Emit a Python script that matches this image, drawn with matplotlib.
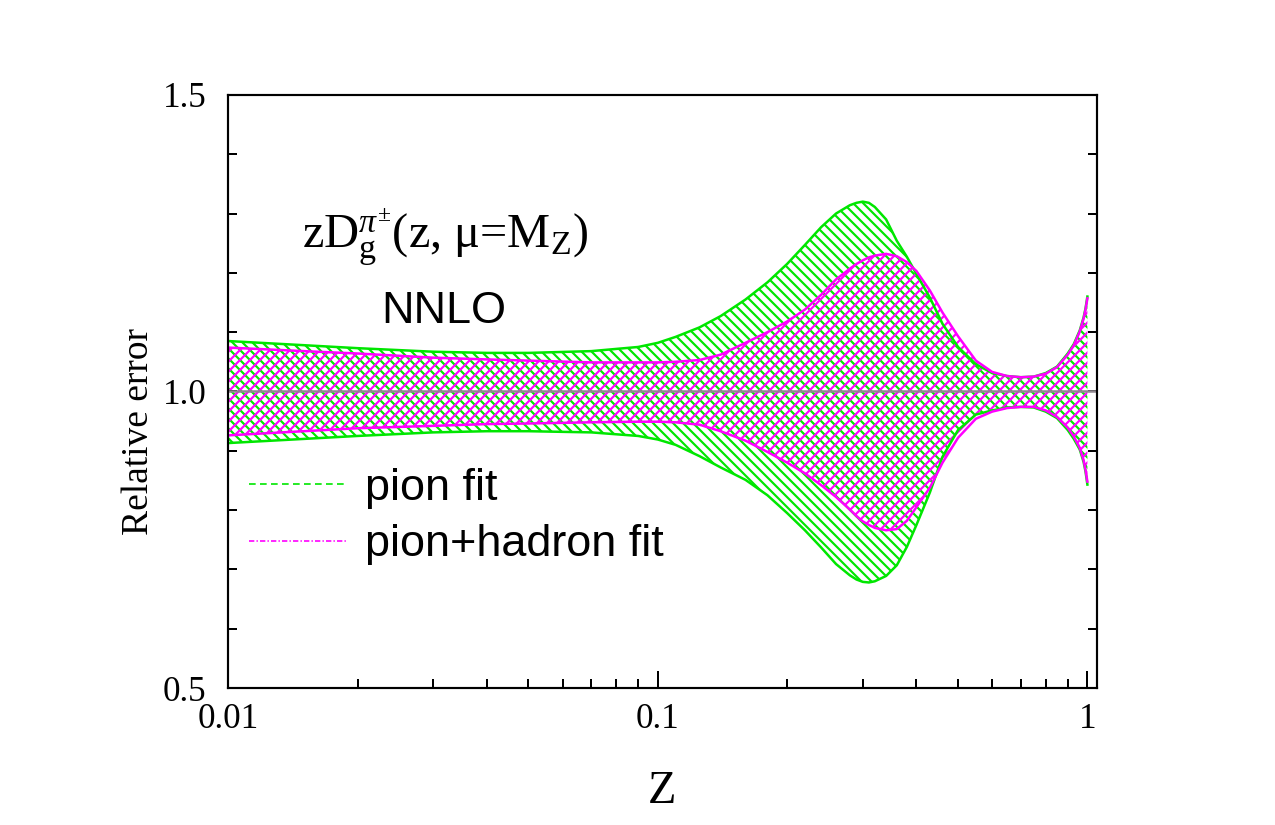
import numpy as np
import matplotlib
matplotlib.use('Agg')
import matplotlib.pyplot as plt
from matplotlib.ticker import MultipleLocator, NullFormatter, FixedLocator

# values
z = [0.01, 0.015, 0.02, 0.03, 0.04, 0.05, 0.07, 0.09, 0.1, 0.11, 0.125, 0.14,
     0.16, 0.18, 0.2, 0.22, 0.24, 0.26, 0.28, 0.29, 0.3, 0.31, 0.32, 0.34,
     0.36, 0.38, 0.4, 0.43, 0.46, 0.5, 0.55, 0.6, 0.65, 0.7, 0.75, 0.8, 0.85,
     0.9, 0.93, 0.96, 0.98, 0.99, 1.0]

pion_hi = [1.085, 1.078, 1.073, 1.067, 1.065, 1.065, 1.068, 1.075, 1.082, 1.092,
           1.108, 1.127, 1.155, 1.184, 1.215, 1.247, 1.277, 1.300, 1.314, 1.318,
           1.320, 1.318, 1.311, 1.290, 1.254, 1.227, 1.198, 1.158, 1.114, 1.075,
           1.046, 1.031, 1.026, 1.024, 1.025, 1.031, 1.042, 1.064, 1.080, 1.103,
           1.125, 1.140, 1.160]
pion_lo = [0.913, 0.920, 0.925, 0.931, 0.933, 0.933, 0.931, 0.925, 0.919, 0.910,
           0.891, 0.872, 0.851, 0.825, 0.795, 0.766, 0.737, 0.709, 0.690, 0.683,
           0.679, 0.678, 0.680, 0.689, 0.707, 0.738, 0.775, 0.830, 0.890, 0.935,
           0.961, 0.968, 0.973, 0.974, 0.973, 0.966, 0.955, 0.935, 0.920, 0.902,
           0.881, 0.865, 0.843]
had_hi = [1.074, 1.068, 1.064, 1.057, 1.054, 1.052, 1.049, 1.049, 1.049, 1.050,
          1.053, 1.062, 1.082, 1.100, 1.118, 1.138, 1.163, 1.189, 1.207, 1.215,
          1.221, 1.226, 1.229, 1.232, 1.228, 1.218, 1.203, 1.170, 1.133, 1.093,
          1.052, 1.033, 1.026, 1.024, 1.025, 1.030, 1.041, 1.062, 1.078, 1.101,
          1.123, 1.138, 1.157]
had_lo = [0.926, 0.933, 0.938, 0.942, 0.945, 0.946, 0.948, 0.949, 0.949, 0.948,
          0.944, 0.933, 0.917, 0.898, 0.880, 0.862, 0.842, 0.822, 0.801, 0.790,
          0.781, 0.775, 0.770, 0.766, 0.768, 0.782, 0.805, 0.838, 0.880, 0.922,
          0.954, 0.966, 0.972, 0.974, 0.974, 0.968, 0.957, 0.939, 0.924, 0.905,
          0.884, 0.868, 0.848]

labels = ['pion fit', 'pion+hadron fit']
green = '#00e600'
magenta = '#ff00ff'

plt.rcParams['font.family'] = 'Liberation Serif'
plt.rcParams['mathtext.fontset'] = 'custom'
plt.rcParams['mathtext.rm'] = 'Liberation Serif'
plt.rcParams['mathtext.it'] = 'Liberation Serif:italic'
plt.rcParams['mathtext.bf'] = 'Liberation Serif:bold'
plt.rcParams['hatch.linewidth'] = 1.3

fig = plt.figure(figsize=(10.625, 6.875), dpi=120)
ax = fig.add_axes([0.179, 0.166, 0.681, 0.719])

ax.fill_between(z, pion_lo, pion_hi, facecolor='none', edgecolor=green,
                hatch='\\\\\\\\', linewidth=0)
ax.fill_between(z, had_lo, had_hi, facecolor='none', edgecolor=magenta,
                hatch='////', linewidth=0)
ax.axhline(1.0, color='#8f878f', lw=1.5)
ax.plot(z, pion_hi, color=green, lw=1.5)
ax.plot(z, pion_lo, color=green, lw=1.5)
ax.plot(z, had_hi, color=magenta, lw=1.5)
ax.plot(z, had_lo, color=magenta, lw=1.5)

ax.set_xscale('log')
ax.set_xlim(0.01, 1.05)
ax.set_ylim(0.5, 1.5)
ax.xaxis.set_major_locator(FixedLocator([0.01, 0.1, 1]))
ax.set_xticklabels(['0.01', '0.1', '1'])
ax.xaxis.set_minor_formatter(NullFormatter())
ax.set_yticks([0.5, 1.0, 1.5])
ax.set_yticklabels(['0.5', '1.0', '1.5'])
ax.yaxis.set_minor_locator(MultipleLocator(0.1))

ax.tick_params(axis='x', which='major', direction='in', length=10, width=1.2,
               labelsize=21, pad=9, top=False)
ax.tick_params(axis='x', which='minor', direction='in', length=5.4, width=1.2,
               top=False)
ax.tick_params(axis='y', which='both', direction='in', length=5.4, width=1.2,
               left=True, right=True, labelsize=21, pad=13)
for s in ax.spines.values():
    s.set_linewidth(1.3)

ax.set_xlabel('Z', fontsize=28)
ax.xaxis.set_label_coords(0.5, -0.139)
ax.set_ylabel('Relative error', fontsize=22.5)
ax.yaxis.set_label_coords(-0.083, 0.432)

ax.text(0.085, 0.742, r'zD$_{\mathrm{g}}^{\pi^{\pm}}$(z, μ=M$_{\mathrm{Z}}$)',
        transform=ax.transAxes, fontsize=29, va='baseline', ha='left')
ax.text(0.176, 0.6155, 'NNLO', family='Liberation Sans', transform=ax.transAxes,
        fontsize=27, va='baseline', ha='left')

# legend drawn by hand
ax.plot([0.0235, 0.1378], [0.3435, 0.3435], transform=ax.transAxes,
        color=green, lw=1.0, dashes=(4, 2.6))
ax.plot([0.0235, 0.1378], [0.2484, 0.2484], transform=ax.transAxes,
        color=magenta, lw=1.0, dashes=(3.2, 1.3, 0.8, 1.3))
ax.text(0.157, 0.317, labels[0], family='Liberation Sans', transform=ax.transAxes,
        fontsize=27, va='baseline', ha='left')
ax.text(0.157, 0.2226, labels[1], family='Liberation Sans', transform=ax.transAxes,
        fontsize=27, va='baseline', ha='left')

fig.savefig('out.png', dpi=120)
